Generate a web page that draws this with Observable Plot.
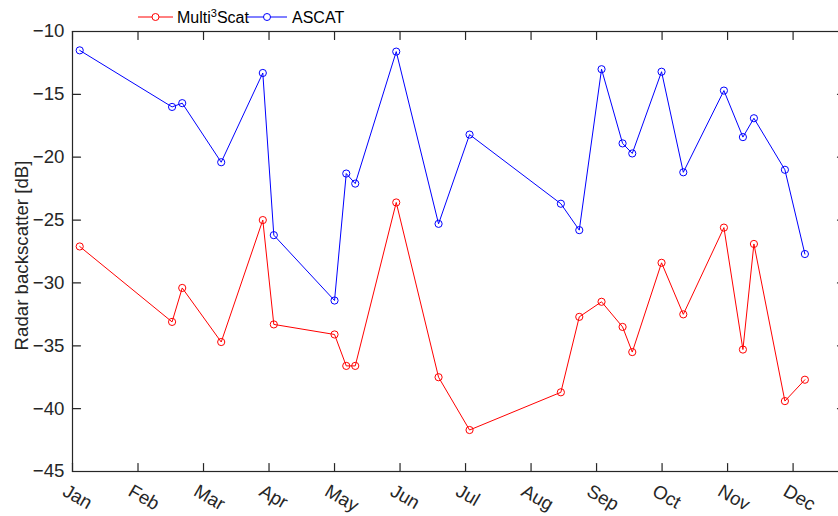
<!DOCTYPE html>
<html>
<head>
<meta charset="utf-8">
<script src="https://cdn.jsdelivr.net/npm/d3@7"></script>
<script src="https://cdn.jsdelivr.net/npm/@observablehq/plot@0.6"></script>
<style>
  html, body { margin: 0; padding: 0; overflow: hidden; background: #fff; }
  #wrap { position: relative; width: 838px; height: 516px; overflow: hidden; font-family: "Liberation Sans", Arial, sans-serif; }
  #chart svg { max-width: none !important; display: block; }
  #legend { position: absolute; left: 0; top: 0; width: 400px; height: 32px; }
  #legend span.lbl { position: absolute; font-size: 16px; color: #000; white-space: nowrap; line-height: 1; }
  #legend sup { font-size: 11px; vertical-align: 6px; line-height: 0; }
</style>
</head>
<body>
<div id="wrap">
  <div id="chart"></div>
  <div id="legend"></div>
</div>
<script>
// Month tick labels and their positions on the month axis (1 = Jan)
const monthNames = ["Jan", "Feb", "Mar", "Apr", "May", "Jun", "Jul", "Aug", "Sep", "Oct", "Nov", "Dec"];
const monthTicks = [1, 2, 3, 4, 5, 6, 7, 8, 9, 10, 11, 12];
const yTicks = [-45, -40, -35, -30, -25, -20, -15, -10];

// Acquisition times, in fractional months
const sampleMonth = [1.11, 2.52, 2.675, 3.27, 3.905, 4.073, 5.0, 5.179, 5.316, 5.942, 6.588, 7.061,
                     8.455, 8.736, 9.076, 9.397, 9.545, 9.992, 10.324, 10.944, 11.234, 11.402, 11.875, 12.18];

// Radar backscatter [dB]
const multi3scat = [-27.1, -33.1, -30.4, -34.7, -25.0, -33.3, -34.1, -36.6, -36.6, -23.6, -37.5, -41.7,
                    -38.7, -32.7, -31.5, -33.5, -35.5, -28.4, -32.5, -25.6, -35.3, -26.9, -39.4, -37.7];
const ascat = [-11.5, -16.0, -15.7, -20.4, -13.3, -26.2, -31.4, -21.3, -22.1, -11.6, -25.3, -18.2,
               -23.7, -25.8, -13.0, -18.9, -19.7, -13.2, -21.2, -14.7, -18.4, -16.9, -21.0, -27.7];

const RED = "#ff0000", BLUE = "#0000ff", AXIS = "#262626";

const redRows = sampleMonth.map((m, i) => ({m, v: multi3scat[i]}));
const blueRows = sampleMonth.map((m, i) => ({m, v: ascat[i]}));

// Short inward tick drawn as a plain segment
const tickShape = { draw(context, l) { context.moveTo(0, 0); context.lineTo(0, -l); } };
const xMax = 12.8;

const chart = Plot.plot({
  width: 846,
  height: 516,
  marginLeft: 72,
  marginRight: 1,
  marginTop: 31,
  marginBottom: 45,
  x: { domain: [1, xMax], axis: null },
  y: { domain: [-45, -10], axis: null },
  style: { fontFamily: "Liberation Sans, Arial, sans-serif", fontSize: "18.67px", color: AXIS, background: "#fff", maxWidth: "none" },
  marks: [
    Plot.line(redRows, { x: "m", y: "v", stroke: RED, strokeWidth: 1 }),
    Plot.dot(redRows, { x: "m", y: "v", r: 3.6, stroke: RED, strokeWidth: 1, fill: "none" }),
    Plot.line(blueRows, { x: "m", y: "v", stroke: BLUE, strokeWidth: 1 }),
    Plot.dot(blueRows, { x: "m", y: "v", r: 3.6, stroke: BLUE, strokeWidth: 1, fill: "none" }),
    Plot.frame({ stroke: AXIS, strokeWidth: 1.2 }),
    // inward ticks on all four sides
    Plot.vector(monthTicks, { x: d => d, y: -45, length: 8, rotate: 0, anchor: "start", shape: tickShape, stroke: AXIS, strokeWidth: 1.2 }),
    Plot.vector(monthTicks, { x: d => d, y: -10, length: 8, rotate: 180, anchor: "start", shape: tickShape, stroke: AXIS, strokeWidth: 1.2 }),
    Plot.vector(yTicks, { x: 1, y: d => d, length: 8, rotate: 90, anchor: "start", shape: tickShape, stroke: AXIS, strokeWidth: 1.2 }),
    Plot.vector(yTicks, { x: xMax, y: d => d, length: 8, rotate: -90, anchor: "start", shape: tickShape, stroke: AXIS, strokeWidth: 1.2 }),
    Plot.axisY({ ticks: yTicks, tickSize: 0, tickPadding: 8, label: null }),
    Plot.text(monthNames, { x: (d, i) => monthTicks[i], frameAnchor: "bottom", text: d => d, rotate: 30, textAnchor: "start", lineAnchor: "middle", dx: -8, dy: 18, fill: AXIS }),
    Plot.text(["Radar backscatter [dB]"], { frameAnchor: "left", text: d => d, rotate: -90, dx: -50, dy: 4, fill: AXIS, textAnchor: "middle", lineAnchor: "middle" })
  ]
});
chart.style.maxWidth = "none";
document.getElementById("chart").appendChild(chart);

// Legend: line + circle swatch followed by the series name
const legendItems = [
  { label: "Multi<sup>3</sup>Scat", color: RED, x0: 138, x1: 173, tx: 177 },
  { label: "ASCAT", color: BLUE, x0: 247, x1: 287, tx: 292 }
];
const legend = document.getElementById("legend");
const ns = "http://www.w3.org/2000/svg";
const sw = document.createElementNS(ns, "svg");
sw.setAttribute("width", 400); sw.setAttribute("height", 32);
sw.style.position = "absolute"; sw.style.left = "0"; sw.style.top = "0";
legend.appendChild(sw);
for (const it of legendItems) {
  const ln = document.createElementNS(ns, "line");
  ln.setAttribute("x1", it.x0); ln.setAttribute("x2", it.x1);
  ln.setAttribute("y1", 17); ln.setAttribute("y2", 17);
  ln.setAttribute("stroke", it.color); ln.setAttribute("stroke-width", 1);
  sw.appendChild(ln);
  const c = document.createElementNS(ns, "circle");
  c.setAttribute("cx", (it.x0 + it.x1) / 2); c.setAttribute("cy", 17); c.setAttribute("r", 3.5);
  c.setAttribute("fill", "#fff"); c.setAttribute("stroke", it.color);
  sw.appendChild(c);
  const s = document.createElement("span");
  s.className = "lbl";
  s.innerHTML = it.label;
  s.style.left = it.tx + "px";
  s.style.top = "10px";
  legend.appendChild(s);
}
</script>
</body>
</html>
